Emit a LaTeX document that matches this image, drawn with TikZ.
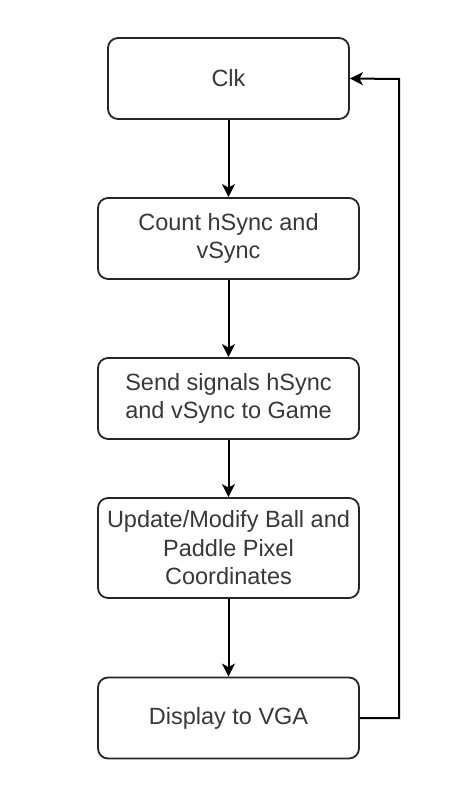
\documentclass[tikz,border=0pt]{standalone}
\usepackage{fontspec}
\setmainfont{Liberation Sans}
\usetikzlibrary{arrows.meta}
\begin{document}
\begin{tikzpicture}[x=1pt,y=-1pt,
  box/.style={draw=black!85, line width=1.8pt, rounded corners=10pt, fill=white, inner sep=0pt, align=center,
    font=\fontsize{23.5}{28.5}\selectfont, text=black!78},
  conn/.style={draw=black, line width=2pt, -{Stealth[length=13pt,width=13pt,inset=3.5pt]}}]
\useasboundingbox (0,0) rectangle (464,802);
\fill[white] (0,0) rectangle (464,802);
\node[box, minimum width=241pt, minimum height=81pt] (clk) at (228.5,78.5) {Clk};
\node[box, minimum width=261pt, minimum height=81pt] (count) at (228.5,238.5) {Count hSync and\\vSync};
\node[box, minimum width=261pt, minimum height=81pt] (send) at (228.5,398.5) {Send signals hSync\\and vSync to Game};
\node[box, minimum width=261pt, minimum height=100pt] (upd) at (228.5,548) {Update/Modify Ball and\\Paddle Pixel\\Coordinates};
\node[box, minimum width=261pt, minimum height=81pt] (disp) at (228.5,718) {Display to VGA};
\coordinate (c1) at (399,718);
\coordinate (c2) at (399,79);
\draw[conn] (clk) -- (count);
\draw[conn] (count) -- (send);
\draw[conn] (send) -- (upd);
\draw[conn] (upd) -- (disp);
\draw[conn] (disp.east) -- (c1) -- (c2) -- (clk.east);
\end{tikzpicture}
\end{document}
